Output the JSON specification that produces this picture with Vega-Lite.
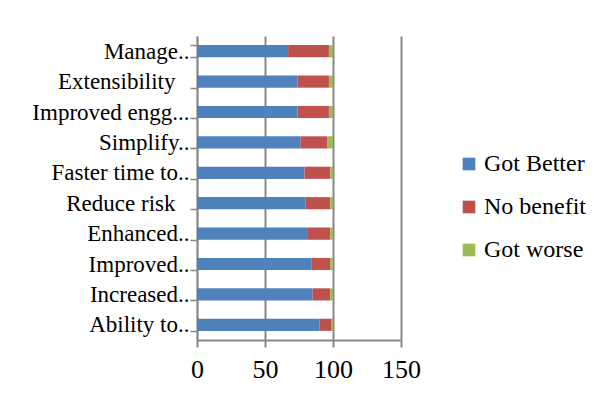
{
  "$schema": "https://vega.github.io/schema/vega-lite/v6.json",
  "autosize": "none",
  "width": 204,
  "height": 304,
  "padding": {"left": 197, "top": 36, "right": 203, "bottom": 63},
  "background": "white",
  "data": {
    "values": [
      {"item": "Manage..", "response": "Got Better", "value": 67},
      {"item": "Manage..", "response": "No benefit", "value": 30},
      {"item": "Manage..", "response": "Got worse", "value": 3},
      {"item": "Extensibility", "response": "Got Better", "value": 74},
      {"item": "Extensibility", "response": "No benefit", "value": 23},
      {"item": "Extensibility", "response": "Got worse", "value": 3},
      {"item": "Improved engg...", "response": "Got Better", "value": 74},
      {"item": "Improved engg...", "response": "No benefit", "value": 23},
      {"item": "Improved engg...", "response": "Got worse", "value": 3},
      {"item": "Simplify..", "response": "Got Better", "value": 76},
      {"item": "Simplify..", "response": "No benefit", "value": 20},
      {"item": "Simplify..", "response": "Got worse", "value": 4},
      {"item": "Faster time to..", "response": "Got Better", "value": 79},
      {"item": "Faster time to..", "response": "No benefit", "value": 19},
      {"item": "Faster time to..", "response": "Got worse", "value": 2},
      {"item": "Reduce risk", "response": "Got Better", "value": 80},
      {"item": "Reduce risk", "response": "No benefit", "value": 18},
      {"item": "Reduce risk", "response": "Got worse", "value": 2},
      {"item": "Enhanced..", "response": "Got Better", "value": 81},
      {"item": "Enhanced..", "response": "No benefit", "value": 17},
      {"item": "Enhanced..", "response": "Got worse", "value": 2},
      {"item": "Improved..", "response": "Got Better", "value": 84},
      {"item": "Improved..", "response": "No benefit", "value": 14},
      {"item": "Improved..", "response": "Got worse", "value": 2},
      {"item": "Increased..", "response": "Got Better", "value": 85},
      {"item": "Increased..", "response": "No benefit", "value": 13},
      {"item": "Increased..", "response": "Got worse", "value": 2},
      {"item": "Ability to..", "response": "Got Better", "value": 90},
      {"item": "Ability to..", "response": "No benefit", "value": 9},
      {"item": "Ability to..", "response": "Got worse", "value": 1}
    ]
  },
  "transform": [
    {"calculate": "indexof(['Got Better', 'No benefit', 'Got worse'], datum.response)", "as": "stackOrder"}
  ],
  "mark": {"type": "bar"},
  "encoding": {
    "y": {
      "field": "item",
      "type": "nominal",
      "sort": null,
      "title": null,
      "scale": {"paddingInner": 0.6, "paddingOuter": 0.3},
      "axis": {
        "domainColor": "#878787",
        "domainWidth": 1.5,
        "tickColor": "#878787",
        "tickWidth": 1.5,
        "tickSize": 7,
        "tickBand": "extent",
        "labelFont": "Liberation Serif",
        "labelFontSize": 23,
        "labelColor": "black",
        "labelPadding": {"condition": {"test": "datum.value == 'Extensibility' || datum.value == 'Reduce risk'", "value": 15}, "value": 1},
        "grid": false
      }
    },
    "x": {
      "field": "value",
      "type": "quantitative",
      "stack": "zero",
      "title": null,
      "scale": {"domain": [0, 150], "nice": false},
      "axis": {
        "values": [0, 50, 100, 150],
        "grid": true,
        "gridColor": "#878787",
        "gridWidth": 2,
        "domainColor": "#878787",
        "domainWidth": 2,
        "tickColor": "#878787",
        "tickWidth": 2,
        "tickSize": 7,
        "labelFlush": false,
        "labelFont": "Liberation Serif",
        "labelFontSize": 26,
        "labelColor": "black",
        "labelPadding": 9
      }
    },
    "order": {"field": "stackOrder", "type": "quantitative"},
    "color": {
      "field": "response",
      "type": "nominal",
      "sort": ["Got Better", "No benefit", "Got worse"],
      "scale": {
        "domain": ["Got Better", "No benefit", "Got worse"],
        "range": ["#4F81BD", "#C0504D", "#9BBB59"]
      },
      "legend": {
        "title": null,
        "orient": "none",
        "legendX": 260,
        "legendY": 116,
        "symbolType": "square",
        "symbolSize": 160,
        "symbolStrokeWidth": 0,
        "labelFont": "Liberation Serif",
        "labelFontSize": 24,
        "labelColor": "black",
        "labelOffset": 3,
        "rowPadding": 19
      }
    }
  },
  "config": {"view": {"stroke": null}}
}
